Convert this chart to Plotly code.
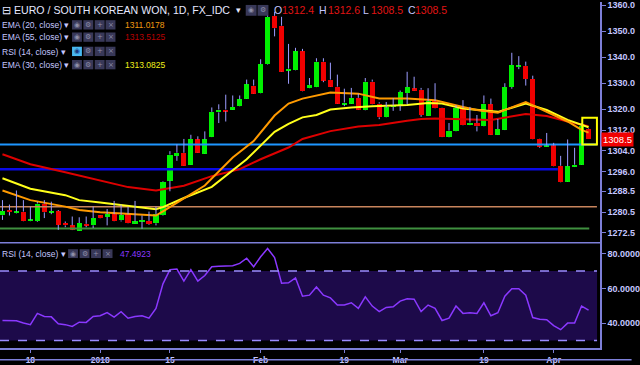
import plotly.graph_objects as go
import pandas as pd

# ---------------- data ----------------
dates = pd.bdate_range("2017-12-12", "2018-04-09")  # 85 daily candles (FX_IDC, weekdays)

open_ = [1279.2, 1281.3, 1280.2, 1280.7, 1277.1, 1277.1, 1283.8, 1280.4, 1280.9, 1276.3,
         1275.4, 1273.4, 1276.0, 1275.4, 1279.2, 1278.7, 1279.7, 1277.3, 1279.7, 1276.3,
         1276.9, 1277.1, 1276.2, 1279.4, 1292.6, 1302.1, 1303.3, 1298.7, 1308.4, 1303.0,
         1309.4, 1318.8, 1319.9, 1319.9, 1321.2, 1324.1, 1329.1, 1326.2, 1337.3, 1355.9,
         1352.1, 1334.8, 1335.0, 1342.3, 1328.2, 1328.6, 1338.3, 1331.4, 1328.7, 1321.9,
         1322.2, 1324.4, 1319.7, 1330.6, 1322.2, 1316.9, 1320.9, 1321.4, 1326.2, 1328.0,
         1327.5, 1317.5, 1323.1, 1320.6, 1309.3, 1311.5, 1320.5, 1314.0, 1314.7, 1313.4,
         1321.9, 1310.2, 1312.1, 1328.5, 1336.3, 1336.7, 1331.6, 1308.6, 1305.6, 1306.1,
         1298.3, 1292.2, 1297.9, 1298.7, 1312.4]
high = [1285.1, 1283.4, 1288.8, 1285.1, 1282.6, 1284.5, 1285.1, 1284.5, 1281.3, 1276.9,
        1278.8, 1278.5, 1278.8, 1282.6, 1279.3, 1281.7, 1284.8, 1283.4, 1282.6, 1284.8,
        1279.2, 1280.7, 1282.6, 1292.3, 1303.9, 1306.5, 1308.6, 1310.2, 1309.6, 1311.5,
        1320.7, 1321.9, 1325.6, 1325.3, 1325.3, 1331.4, 1331.4, 1339.2, 1356.2, 1357.4,
        1355.5, 1345.1, 1343.6, 1343.2, 1332.0, 1339.6, 1339.6, 1337.9, 1333.3, 1327.9,
        1328.2, 1326.0, 1332.0, 1331.4, 1322.7, 1322.8, 1324.3, 1327.2, 1334.4, 1332.5,
        1328.2, 1328.1, 1330.0, 1320.7, 1314.7, 1321.6, 1323.5, 1320.9, 1317.8, 1325.3,
        1324.1, 1316.3, 1330.0, 1341.7, 1340.4, 1338.3, 1332.9, 1308.7, 1310.9, 1307.1,
        1302.1, 1308.4, 1305.2, 1314.7, 1312.6]
low = [1277.5, 1279.2, 1280.0, 1277.0, 1277.0, 1276.8, 1278.2, 1279.7, 1273.7, 1274.7,
       1273.6, 1273.3, 1274.7, 1274.4, 1278.1, 1275.4, 1277.0, 1276.9, 1276.2, 1276.2,
       1274.1, 1275.6, 1275.4, 1279.2, 1288.5, 1300.2, 1298.2, 1298.6, 1303.2, 1302.9,
       1309.3, 1314.7, 1315.3, 1319.8, 1321.1, 1324.0, 1325.9, 1326.1, 1337.1, 1348.0,
       1334.4, 1329.8, 1334.9, 1326.9, 1328.1, 1328.5, 1330.4, 1328.6, 1322.1, 1321.2,
       1322.1, 1319.8, 1319.6, 1321.8, 1316.2, 1316.8, 1319.4, 1319.4, 1321.9, 1327.1,
       1317.1, 1317.4, 1320.3, 1309.3, 1309.2, 1311.4, 1313.7, 1313.9, 1311.5, 1313.3,
       1310.1, 1310.1, 1312.0, 1327.9, 1335.4, 1329.1, 1308.3, 1305.2, 1305.5, 1298.0,
       1291.9, 1292.1, 1297.8, 1298.6, 1308.5]
close = [1280.9, 1280.5, 1280.7, 1277.1, 1277.5, 1283.8, 1280.4, 1280.9, 1275.6, 1275.4,
         1273.7, 1276.3, 1275.3, 1278.2, 1278.2, 1279.7, 1277.1, 1279.4, 1276.3, 1276.9,
         1277.4, 1275.9, 1279.7, 1292.0, 1302.6, 1303.3, 1298.3, 1308.6, 1303.3, 1308.4,
         1319.0, 1319.9, 1319.3, 1320.9, 1323.8, 1329.6, 1326.0, 1337.3, 1355.5, 1351.1,
         1334.5, 1335.6, 1342.3, 1327.0, 1329.4, 1338.3, 1331.0, 1328.7, 1322.2, 1322.6,
         1324.4, 1319.9, 1330.6, 1321.9, 1316.9, 1320.7, 1321.4, 1326.6, 1328.5, 1327.2,
         1317.8, 1323.1, 1320.4, 1309.4, 1311.8, 1320.5, 1313.8, 1314.9, 1313.4, 1322.2,
         1310.2, 1312.4, 1328.5, 1337.0, 1336.7, 1331.6, 1308.4, 1305.6, 1306.1, 1298.1,
         1292.0, 1298.1, 1298.7, 1313.6, 1308.5]

# EMA readings (trading-day number, value)
ema20_day = [0, 4, 9, 11, 14, 18, 22, 23, 26, 29, 33, 36, 39, 41, 43, 45, 47, 51, 54, 58,
             61, 62, 66, 68, 71, 75, 78, 81, 83, 84]
ema20_val = [1288.8, 1285.1, 1282.6, 1281.3, 1280.4, 1279.7, 1279.2, 1280.8, 1285.6, 1290.7,
             1301.5, 1307.8, 1317.6, 1322.2, 1324.1, 1325.3, 1326.4, 1326.0, 1324.1, 1324.1,
             1323.8, 1323.5, 1320.9, 1319.7, 1318.7, 1322.8, 1319.0, 1315.3, 1312.1, 1311.0178]
ema30_day = [0, 4, 9, 11, 14, 18, 22, 23, 26, 30, 35, 39, 41, 43, 45, 47, 50, 53, 58, 61,
             63, 66, 68, 71, 75, 78, 81, 83, 84]
ema30_val = [1293.5, 1289.5, 1287.0, 1285.1, 1284.2, 1282.8, 1281.6, 1282.4, 1285.9, 1290.2,
             1300.8, 1311.3, 1314.4, 1316.9, 1317.8, 1319.9, 1320.7, 1321.2, 1321.6, 1322.4,
             1322.2, 1320.3, 1319.7, 1319.0, 1322.2, 1319.7, 1315.9, 1314.0, 1313.0825]
ema55_day = [0, 4, 9, 14, 18, 22, 23, 26, 30, 34, 37, 41, 43, 45, 47, 51, 54, 58, 60, 62,
             66, 70, 75, 78, 81, 83, 84]
ema55_val = [1302.7, 1298.9, 1295.8, 1292.6, 1290.1, 1288.8, 1289.2, 1290.6, 1294.3, 1297.0,
             1300.8, 1305.3, 1308.6, 1310.2, 1311.6, 1313.4, 1314.0, 1315.6, 1316.3, 1316.5,
             1316.2, 1315.9, 1318.2, 1317.4, 1315.3, 1314.0, 1313.5125]

rsi = [41.5, 41.5, 41.3, 40.0, 39.1, 45.6, 43.8, 43.6, 39.6, 39.1,
       38.1, 40.5, 40.4, 43.8, 44.2, 46.0, 43.4, 46.6, 42.8, 43.8,
       44.2, 42.8, 48.5, 62.6, 70.8, 71.1, 64.2, 70.8, 64.2, 67.4,
       72.5, 72.7, 72.7, 73.1, 74.4, 77.4, 72.5, 78.2, 83.0, 77.8,
       63.0, 63.2, 66.0, 55.5, 56.1, 60.8, 56.1, 54.5, 50.4, 50.4,
       51.7, 48.5, 55.1, 49.8, 46.6, 49.0, 49.4, 52.7, 54.0, 53.8,
       46.6, 50.4, 48.5, 41.5, 42.8, 49.8, 45.6, 46.0, 45.6, 51.7,
       44.2, 46.0, 55.5, 59.8, 59.8, 56.1, 43.2, 42.2, 41.9, 38.5,
       36.2, 40.0, 40.0, 49.8, 47.4923]

level_prices = [1306.5, 1297.0, 1282.6, 1274.2]
highlight_box = (1306.5, 1316.7)

price_ticks = [1360.0, 1350.0, 1340.0, 1330.0, 1320.0, 1312.0, 1304.0, 1296.0, 1288.5, 1280.5, 1272.5]
rsi_ticks = [80, 60, 40]
x_tick_dates = ["2017-12-18", "2018-01-01", "2018-01-15", "2018-02-01",
                "2018-02-19", "2018-03-01", "2018-03-19", "2018-04-02"]
x_tick_labels = ["18", "2018", "15", "Feb", "19", "Mar", "19", "Apr"]

# ---------------- styling ----------------
W, H = 640, 365
ML, MR, MT, MB = 0, 32, 0, 13
PW, PH = W - ML - MR, H - MT - MB
def PX(x): return (x - ML) / PW
def PY(y): return 1 - (y - MT) / PH

BG = "#000000"
LAV = "#c4c6ff"
AXIS = "#7d7fd8"
WICK = "#9c9cff"
UP = "#00f000"
DN = "#f00000"
FONT = "Liberation Sans, Arial, sans-serif"

n = len(close)
idx = list(range(n))
body_lo = [min(o, c) for o, c in zip(open_, close)]
body_hi = [max(o, c) for o, c in zip(open_, close)]
body_h = [max(h - l, 0.35) for h, l in zip(body_hi, body_lo)]
colors = [UP if c >= o else DN for o, c in zip(open_, close)]

fig = go.Figure()

# horizontal levels
lvl_colors = ["#1e96ff", "#0a0ae6", "#c8845c", "#3f8f3f"]
lvl_widths = [2, 2.5, 1.5, 2]
lvl_end = [85.2, 79.6, 85.2, 84.1]
for p, c, w, e in zip(level_prices, lvl_colors, lvl_widths, lvl_end):
    fig.add_trace(go.Scatter(x=[-0.4, e], y=[p, p], mode="lines", line=dict(color=c, width=w),
                             hoverinfo="skip", showlegend=False, yaxis="y"))

# EMAs
fig.add_trace(go.Scatter(x=ema55_day, y=ema55_val, mode="lines", line=dict(color="#dd0000", width=2),
                         showlegend=False, yaxis="y"))
fig.add_trace(go.Scatter(x=ema30_day, y=ema30_val, mode="lines", line=dict(color="#ffff1a", width=2),
                         showlegend=False, yaxis="y"))
fig.add_trace(go.Scatter(x=ema20_day, y=ema20_val, mode="lines", line=dict(color="#ff9a00", width=2),
                         showlegend=False, yaxis="y"))

# candle bodies
fig.add_trace(go.Bar(x=idx, y=body_h, base=body_lo, width=0.74, marker=dict(color=colors, line=dict(width=0)),
                     showlegend=False, yaxis="y"))
# wicks (upper and lower)
fig.add_trace(go.Scatter(x=idx, y=body_hi, mode="markers", marker=dict(size=1, color="rgba(0,0,0,0)"),
                         error_y=dict(type="data", symmetric=False,
                                      array=[h - b for h, b in zip(high, body_hi)],
                                      arrayminus=[0] * n, width=0, thickness=1, color=WICK),
                         showlegend=False, yaxis="y"))
fig.add_trace(go.Scatter(x=idx, y=body_lo, mode="markers", marker=dict(size=1, color="rgba(0,0,0,0)"),
                         error_y=dict(type="data", symmetric=False, array=[0] * n,
                                      arrayminus=[b - l for b, l in zip(body_lo, low)],
                                      width=0, thickness=1, color=WICK),
                         showlegend=False, yaxis="y"))

# RSI
fig.add_trace(go.Scatter(x=idx, y=rsi, mode="lines", line=dict(color="#8a38ff", width=1.5),
                         showlegend=False, yaxis="y2"))

date_pos = {d.strftime("%Y-%m-%d"): i for i, d in enumerate(dates)}
tick_idx = [date_pos[d] for d in x_tick_dates]

shapes = [
    # RSI band
    dict(type="rect", xref="paper", yref="y2", x0=0, x1=PX(605), y0=30, y1=70,
         fillcolor="#1d0a4a", line=dict(width=0), layer="below"),
    dict(type="line", xref="paper", yref="y2", x0=0, x1=PX(605), y0=70, y1=70,
         line=dict(color="#9a8cff", width=1.5, dash="dash")),
    dict(type="line", xref="paper", yref="y2", x0=0, x1=PX(605), y0=30, y1=30,
         line=dict(color="#9a8cff", width=1.5, dash="dash")),
    # pane separator
    dict(type="line", xref="paper", yref="paper", x0=0, x1=1, y0=PY(245), y1=PY(245),
         line=dict(color=AXIS, width=1.5)),
    # bottom frame line
    dict(type="line", xref="paper", yref="paper", x0=0, x1=PX(640), y0=PY(364), y1=PY(364),
         line=dict(color=AXIS, width=1.5)),
    # highlight box
    dict(type="rect", xref="x", yref="y", x0=83.1, x1=85.2, y0=highlight_box[0], y1=highlight_box[1],
         line=dict(color="#ffff00", width=2), fillcolor="rgba(0,0,0,0)"),
]

ann = []
def text(x, y, s, color=LAV, size=9, weight="normal", xanchor="left"):
    ann.append(dict(xref="paper", yref="paper", x=PX(x), y=PY(y), text=s, showarrow=False,
                    xanchor=xanchor, yanchor="middle",
                    font=dict(family=FONT, size=size, color=color, weight=weight)))

def icon_box(x0, y0, x1, y1, glyph, fill="#383858", gcol="#8e8ea8"):
    shapes.append(dict(type="rect", xref="paper", yref="paper", x0=PX(x0), x1=PX(x1),
                       y0=PY(y1), y1=PY(y0), fillcolor=fill, line=dict(width=0)))
    ann.append(dict(xref="paper", yref="paper", x=PX((x0 + x1) / 2), y=PY((y0 + y1) / 2),
                    text=glyph, showarrow=False, xanchor="center", yanchor="middle",
                    font=dict(family="DejaVu Sans", size=7, color=gcol)))

# header row
text(0, 8.5, "⊟", color="#e6e8ff", size=11)
text(12, 8.5, "EURO / SOUTH KOREAN WON, 1D, FX_IDC", color="#e6e8ff", size=10.6)
text(237, 8.5, "▾", color="#e6e8ff", size=9)
icon_box(249, 3, 260, 14, "◉")
icon_box(261, 3, 272, 14, "⚙")
text(276, 8.5, "O", color=LAV, size=10.5)
text(284, 8.5, "1312.4", color="#e01414", size=10.5)
text(321, 8.5, "H", color=LAV, size=10.5)
text(330, 8.5, "1312.6", color="#e01414", size=10.5)
text(366, 8.5, "L", color=LAV, size=10.5)
text(374, 8.5, "1308.5", color="#e01414", size=10.5)
text(411, 8.5, "C", color=LAV, size=10.5)
text(419, 8.5, "1308.5", color="#e01414", size=10.5)

rows = [(23.5, "EMA (20, close) ▾", "1311.0178", "#f09a10"),
        (36.0, "EMA (55, close) ▾", "1313.5125", "#b80000"),
        (50.5, "RSI (14, close) ▾", None, None),
        (64.0, "EMA (30, close) ▾", "1313.0825", "#f0f01a")]
for y, lab, val, vc in rows:
    text(0, y, lab, color=LAV, size=8.5)
    glyphs = ["◉", "⚙", "+", "×"]
    xs = [73, 84.5, 96, 107]
    for k, (gx, g) in enumerate(zip(xs, glyphs)):
        if val is None and k == 0:
            icon_box(gx, y - 5, gx + 10, y + 4.5, g, fill="#49b8f0", gcol="#1a3a80")
        else:
            icon_box(gx, y - 5, gx + 10, y + 4.5, g)
    if val:
        text(125, y, val, color=vc, size=8.5)

# RSI pane legend
text(0, 256, "RSI (14, close) ▾", color=LAV, size=8.5)
for gx, g in zip([69, 80.7, 92.3, 104], ["◉", "⚙", "+", "×"]):
    icon_box(gx, 251.5, gx + 10, 260.5, g)
text(120, 256, "47.4923", color="#8a38ff", size=8.5)

# last price label on the axis
ann.append(dict(xref="paper", yref="y", x=1.0, y=1308.5, text="1308.5", showarrow=False,
                xanchor="left", yanchor="middle", xshift=1, bgcolor="#f00000", borderpad=1,
                font=dict(family=FONT, size=9.5, color="#ffffff")))

fig.update_layout(
    width=W, height=H, margin=dict(l=ML, r=MR, t=MT, b=MB),
    paper_bgcolor=BG, plot_bgcolor=BG, showlegend=False, bargap=0,
    shapes=shapes, annotations=ann,
    xaxis=dict(domain=[0, 1], range=[-0.354, 85.64], anchor="y2", tickvals=tick_idx,
               ticktext=x_tick_labels, ticks="outside", ticklen=3, tickcolor=AXIS,
               showline=True, linecolor=AXIS, linewidth=1.5, showgrid=False, zeroline=False,
               tickfont=dict(family=FONT, size=8.5, color=LAV, weight="bold")),
    yaxis=dict(domain=[1 - 245 / PH, 1], range=[1268.7, 1361.2], side="right", anchor="x",
               tickvals=price_ticks, ticktext=[f"{v:.1f}" for v in price_ticks],
               ticks="outside", ticklen=4, tickcolor=AXIS, showline=True, linecolor=AXIS,
               linewidth=1.5, showgrid=False, zeroline=False, ticklabeloverflow="allow",
               tickfont=dict(family=FONT, size=9, color=LAV, weight="bold")),
    yaxis2=dict(domain=[0, 1 - 245 / PH], range=[25.64, 86.26], side="right", anchor="x",
                tickvals=rsi_ticks, ticktext=[f"{v:.4f}" for v in rsi_ticks],
                ticks="outside", ticklen=4, tickcolor=AXIS, showline=True, linecolor=AXIS,
                linewidth=1.5, showgrid=False, zeroline=False, ticklabeloverflow="allow",
                tickfont=dict(family=FONT, size=9, color=LAV, weight="bold")),
)

fig.write_html("out.html")
